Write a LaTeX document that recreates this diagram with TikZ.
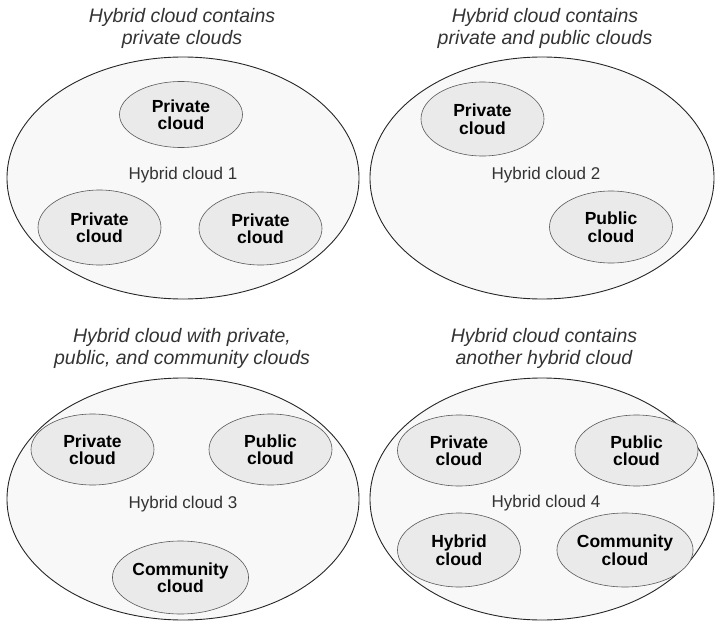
\documentclass[tikz,border=0pt]{standalone}
\usepackage{fontspec}
\setmainfont{Liberation Sans}
\usetikzlibrary{shapes.geometric}
\definecolor{hybridfill}{HTML}{F8F8F8}
\definecolor{cloudfill}{HTML}{EAEAEA}
\tikzset{
  hybrid/.style={ellipse, draw=black!85, fill=hybridfill, line width=0.9pt,
    minimum width=352pt, minimum height=242pt, inner sep=0pt},
  cloud/.style={ellipse, draw=black!65, fill=cloudfill, line width=0.6pt,
    minimum width=123pt, minimum height=72pt, inner sep=0pt, align=center,
    font=\fontsize{17.5}{17.5}\selectfont\bfseries},
  caption/.style={align=center, text=black!80,
    font=\fontsize{19.5}{22}\selectfont\itshape},
  hlabel/.style={text=black!80, font=\fontsize{17}{20}\selectfont}
}

\begin{document}
\begin{tikzpicture}[x=1pt, y=-1pt]
  \useasboundingbox (0,0) rectangle (715,621);

  % panel 1
  \begin{scope}[shift={(183,178)}]
    \node[caption] (title1) at (-1,-150) {Hybrid cloud contains\\private clouds};
    \node[hybrid] (hc1) at (0,0) {};
    \node[hlabel] (lbl1) at (0,-3) {Hybrid cloud 1};
    \node[cloud, minimum height=66pt] (priv1a) at (-2,-63.5) {Private\\cloud};
    \node[cloud, minimum height=75pt] (priv1b) at (-83.5,49.5) {Private\\cloud};
    \node[cloud, minimum height=73pt] (priv1c) at (77.5,50.5) {Private\\cloud};
  \end{scope}

  % panel 2
  \begin{scope}[shift={(542,178)}]
    \node[caption] (title2) at (3,-150) {Hybrid cloud contains\\private and public clouds};
    \node[hybrid, minimum width=344pt] (hc2) at (0,0) {};
    \node[hlabel] (lbl2) at (4,-3) {Hybrid cloud 2};
    \node[cloud, minimum height=74pt] (priv2) at (-59.5,-59) {Private\\cloud};
    \node[cloud] (pub2) at (69,49) {Public\\cloud};
  \end{scope}

  % panel 3
  \begin{scope}[shift={(183,499)}]
    \node[caption] (title3) at (-1,-151) {Hybrid cloud with private,\\public, and community clouds};
    \node[hybrid] (hc3) at (0,0) {};
    \node[hlabel] (lbl3) at (0,5) {Hybrid cloud 3};
    \node[cloud, minimum height=71pt] (priv3) at (-90.5,-49.5) {Private\\cloud};
    \node[cloud, minimum height=71pt] (pub3) at (87.5,-49.5) {Public\\cloud};
    \node[cloud, minimum height=73pt] (comm3) at (-2.5,78.5) {Community\\cloud};
  \end{scope}

  % panel 4
  \begin{scope}[shift={(542,499)}]
    \node[caption] (title4) at (2,-151) {Hybrid cloud contains\\another hybrid cloud};
    \node[hybrid, minimum width=344pt] (hc4) at (0,0) {};
    \node[hlabel] (lbl4) at (4,4.5) {Hybrid cloud 4};
    \node[cloud, minimum height=71pt] (priv4) at (-83,-48.5) {Private\\cloud};
    \node[cloud, minimum height=71pt] (pub4) at (94.5,-48.5) {Public\\cloud};
    \node[cloud, minimum height=74pt] (hyb4) at (-83,51) {Hybrid\\cloud};
    \node[cloud, minimum height=74pt] (comm4) at (83,51) {Community\\cloud};
  \end{scope}
\end{tikzpicture}
\end{document}
